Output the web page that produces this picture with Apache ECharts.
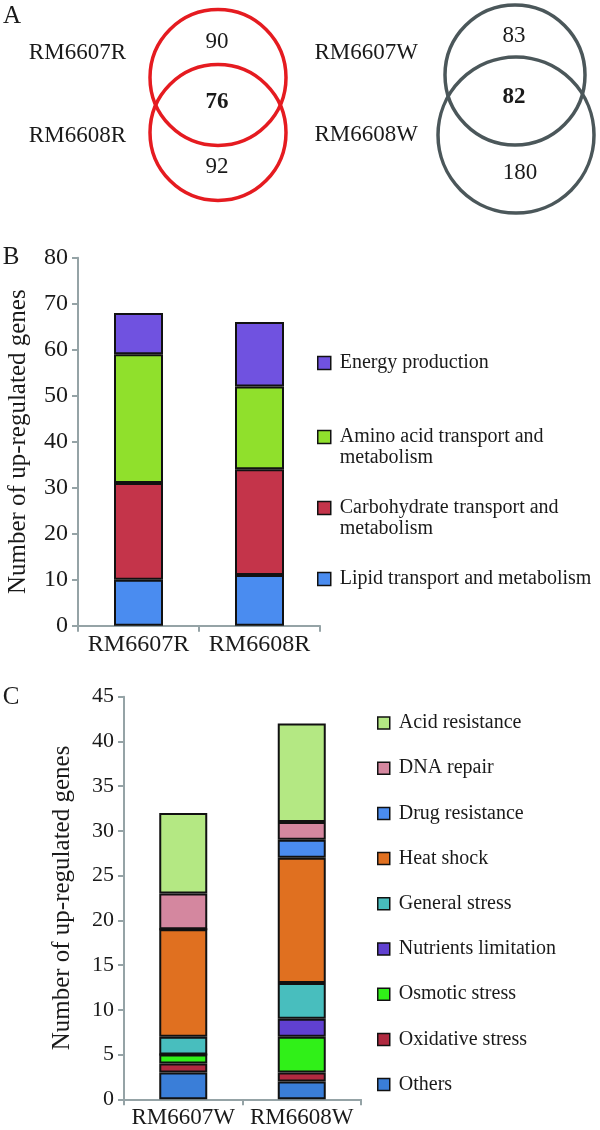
<!DOCTYPE html>
<html>
<head>
<meta charset="utf-8">
<script src="https://cdn.jsdelivr.net/npm/echarts@6/dist/echarts.min.js"></script>
<style>html,body{margin:0;padding:0;background:#fff}#c{width:600px;height:1130px}</style>
</head>
<body>
<div id="c"></div>
<script>
// ---------- Data ----------
const vennRNames = ['RM6607R', 'RM6608R'];
const vennRCounts = [90, 76, 92];        // only 6607R, shared, only 6608R
const vennWNames = ['RM6607W', 'RM6608W'];
const vennWCounts = [83, 82, 180];       // only 6607W, shared, only 6608W

const catsB = ['RM6607R', 'RM6608R'];
const seriesNamesB = ['Lipid transport and metabolism', 'Carbohydrate transport and metabolism', 'Amino acid transport and metabolism', 'Energy production'];
const lipid = [10, 11];
const carbohydrate = [21, 23];
const aminoAcid = [28, 18];
const energy = [9, 14];

const catsC = ['RM6607W', 'RM6608W'];
const seriesNamesC = ['Others', 'Oxidative stress', 'Osmotic stress', 'Nutrients limitation', 'General stress', 'Heat shock', 'Drug resistance', 'DNA repair', 'Acid resistance'];
const others = [3, 2];
const oxidative = [1, 1];
const osmotic = [1, 4];
const nutrients = [0, 2];
const general = [2, 4];
const heatShock = [12, 14];
const drug = [0, 2];
const dnaRepair = [4, 2];
const acid = [9, 11];

// ---------- Styles ----------
const FONT = 'Liberation Serif';
const TXT = '#1a1a1a';
const AX = '#95a3a6';
const colorsB = ['#4a8cf0', '#c4344a', '#90e02c', '#7052e0'];
const colorsC = ['#3a7ed8', '#b02a40', '#30f018', '#6040d0', '#48bebe', '#e07020', '#4a8cf0', '#d4879f', '#b4e883'];
const dataB = [lipid, carbohydrate, aminoAcid, energy];
const dataC = [others, oxidative, osmotic, nutrients, general, heatShock, drug, dnaRepair, acid];

function txt(text, x, y, size, opts) {
  return {
    type: 'text', x: x, y: y, z: 10,
    style: Object.assign({ text: String(text), font: size + 'px "' + FONT + '"', fill: TXT, align: 'center', verticalAlign: 'middle' }, opts || {})
  };
}
function circ(cx, cy, r, color) {
  return { type: 'circle', shape: { cx: cx, cy: cy, r: r }, style: { fill: 'none', stroke: color, lineWidth: 3.5 }, z: 5 };
}

const graphic = [
  txt('A', 12, 16, 25),
  txt('B', 11, 257, 25),
  txt('C', 11, 697, 25),
  circ(218, 77.5, 68, '#e51b20'),
  circ(218, 132.5, 68, '#e51b20'),
  circ(515, 75, 70, '#4b575a'),
  circ(516, 135, 78, '#4b575a'),
  txt(vennRNames[0], 126, 53, 23, { align: 'right' }),
  txt(vennRNames[1], 126, 136, 23, { align: 'right' }),
  txt(vennRCounts[0], 217, 42, 23),
  txt(vennRCounts[1], 217, 102, 23, { font: 'bold 23px "' + FONT + '"' }),
  txt(vennRCounts[2], 217, 167, 23),
  txt(vennWNames[0], 418, 53, 23, { align: 'right' }),
  txt(vennWNames[1], 418, 135, 23, { align: 'right' }),
  txt(vennWCounts[0], 514, 36, 23),
  txt(vennWCounts[1], 514, 97, 23, { font: 'bold 23px "' + FONT + '"' }),
  txt(vennWCounts[2], 520, 173, 23)
];

function xAxisCfg(cats, gridIndex, size) {
  return {
    type: 'category', data: cats, gridIndex: gridIndex,
    axisLine: { lineStyle: { color: AX, width: 2 } },
    axisTick: { show: true, length: 6, lineStyle: { color: AX, width: 2 } },
    axisLabel: { fontFamily: FONT, fontSize: size, color: TXT, margin: 7, interval: 0, hideOverlap: false },
    splitLine: { show: false }
  };
}
function yAxisCfg(gridIndex, max, interval, size, nameGap) {
  return {
    type: 'value', gridIndex: gridIndex, min: 0, max: max, interval: interval,
    name: 'Number of up-regulated genes', nameLocation: 'middle', nameGap: nameGap,
    nameTextStyle: { fontFamily: FONT, fontSize: 25, color: TXT },
    axisLine: { show: true, lineStyle: { color: AX, width: 2 } },
    axisTick: { show: true, length: 6, lineStyle: { color: AX, width: 2 } },
    axisLabel: { fontFamily: FONT, fontSize: size, color: TXT, margin: 10 },
    splitLine: { show: false }
  };
}

const series = [];
seriesNamesB.forEach((n, i) => series.push({
  name: n, type: 'bar', stack: 'b', xAxisIndex: 0, yAxisIndex: 0, barWidth: 49, data: dataB[i],
  itemStyle: { color: colorsB[i], borderColor: '#111', borderWidth: 2 }
}));
seriesNamesC.forEach((n, i) => series.push({
  name: n, type: 'bar', stack: 'c', xAxisIndex: 1, yAxisIndex: 1, barWidth: 48, data: dataC[i],
  itemStyle: { color: colorsC[i], borderColor: '#111', borderWidth: 2 }
}));

const legendBase = {
  orient: 'vertical', padding: 0, itemWidth: 13, itemHeight: 13, selectedMode: false,
  icon: 'rect',
  itemStyle: { borderColor: '#111', borderWidth: 1.5 },
  textStyle: { fontFamily: FONT, fontSize: 20, color: TXT, lineHeight: 21, padding: [0, 0, 0, 4] }
};
// leading blank line keeps the icon level with the first text line
const legendBFmt = {
  'Amino acid transport and metabolism': '\u3000\nAmino acid transport and\nmetabolism',
  'Carbohydrate transport and metabolism': '\u3000\nCarbohydrate transport and\nmetabolism'
};
const legends = [
  Object.assign({}, legendBase, { left: 317, top: 352.5, data: ['Energy production'] }),
  Object.assign({}, legendBase, { left: 317, top: 405.5, data: ['Amino acid transport and metabolism'], formatter: n => legendBFmt[n] }),
  Object.assign({}, legendBase, { left: 317, top: 476.5, data: ['Carbohydrate transport and metabolism'], formatter: n => legendBFmt[n] }),
  Object.assign({}, legendBase, { left: 317, top: 568.5, data: ['Lipid transport and metabolism'] }),
  Object.assign({}, legendBase, { left: 377, top: 713, itemWidth: 12, itemHeight: 12, itemGap: 25.2,
    data: seriesNamesC.slice().reverse(),
    textStyle: Object.assign({}, legendBase.textStyle, { lineHeight: 20 }) })
];

const chart = echarts.init(document.getElementById('c'), null, { renderer: 'canvas' });
chart.setOption({
  animation: false,
  backgroundColor: '#fff',
  graphic: graphic,
  grid: [
    { left: 78, top: 257.7, width: 242, height: 368, containLabel: false },
    { left: 124, top: 696.7, width: 237, height: 402.6, containLabel: false }
  ],
  xAxis: [xAxisCfg(catsB, 0, 24), xAxisCfg(catsC, 1, 23)],
  yAxis: [yAxisCfg(0, 80, 10, 24, 47), yAxisCfg(1, 45, 5, 22, 49)],
  legend: legends,
  series: series
});
</script>
</body>
</html>
